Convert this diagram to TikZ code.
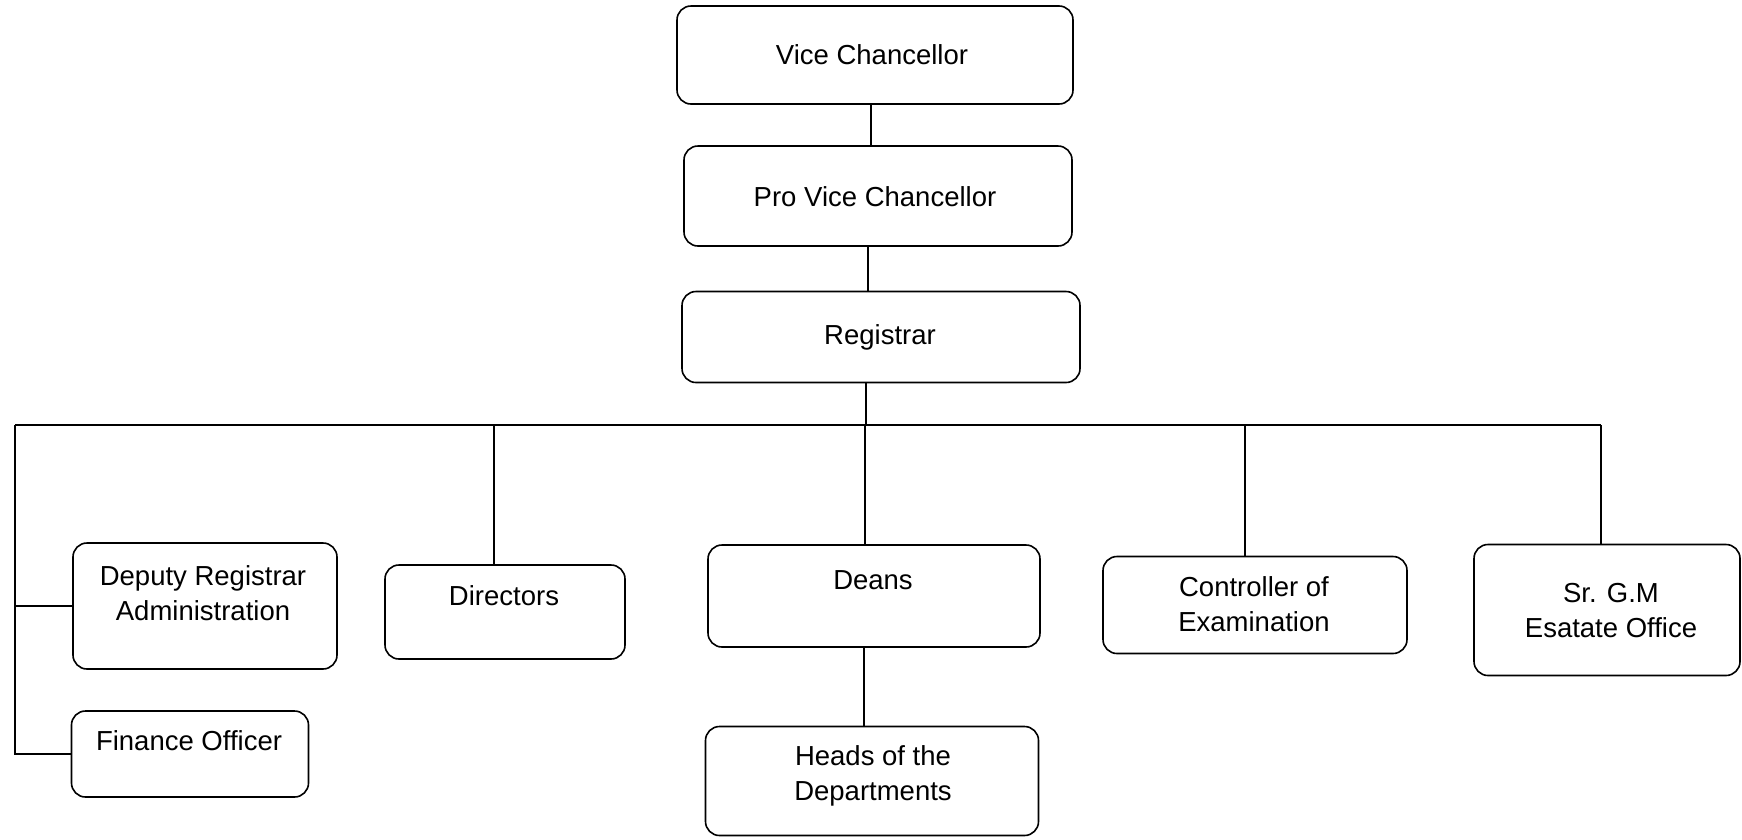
\documentclass[tikz,border=0pt]{standalone}
\usepackage{fontspec}
\setmainfont{Liberation Sans}
\begin{document}
\begin{tikzpicture}[x=1pt,y=-1pt,
  box/.style={draw, line width=1.6pt, rounded corners=14pt, inner sep=0pt},
  txt/.style={align=center, inner sep=0pt, font=\fontsize{27.5}{35}\selectfont},
  conn/.style={line width=1.6pt}]
\useasboundingbox (0,0) rectangle (1742,839);
% boxes
\node[box, minimum width=396pt, minimum height=98pt]  (vc)    at (875,55)   {};
\node[box, minimum width=388pt, minimum height=100pt] (pvc)   at (878,196)  {};
\node[box, minimum width=398pt, minimum height=91pt]  (reg)   at (881,337)  {};
\node[box, minimum width=264pt, minimum height=126pt] (dra)   at (205,606)  {};
\node[box, minimum width=237pt, minimum height=86pt]  (fo)    at (190,754)  {};
\node[box, minimum width=240pt, minimum height=94pt]  (dir)   at (505,612)  {};
\node[box, minimum width=332pt, minimum height=102pt] (deans) at (874,596)  {};
\node[box, minimum width=333pt, minimum height=109pt] (heads) at (872,781)  {};
\node[box, minimum width=304pt, minimum height=97pt]  (ctrl)  at (1255,605) {};
\node[box, minimum width=266pt, minimum height=131pt] (srgm)  at (1607,610) {};
% texts
\node[txt] (vct)    at (872,55)   {Vice Chancellor};
\node[txt] (pvct)   at (875,197)  {Pro Vice Chancellor};
\node[txt] (regt)   at (880,337)  {Registrar};
\node[txt] (drat)   at (203,593)  {Deputy Registrar\\Administration};
\node[txt] (fot)    at (189,741)  {Finance Officer};
\node[txt] (dirt)   at (504,596)  {Directors};
\node[txt] (deanst) at (873,580)  {Deans};
\node[txt] (headst) at (873,776)  {Heads of the\\Departments};
\node[txt] (ctrlt)  at (1254,604) {Controller of\\Examination};
\node[txt] (srgmt)  at (1611,611) {Sr. G.M\\Esatate Office};
% bus
\coordinate (busL) at (15,425);
\coordinate (busR) at (1601,425);
\draw[conn] (busL) -- (busR);
\draw[conn] ([xshift=-4pt]vc.south) -- ([xshift=-7pt]pvc.north);
\draw[conn] ([xshift=-10pt]pvc.south) -- ([xshift=-13pt]reg.north);
\draw[conn] ([xshift=-15pt]reg.south) -- ([xshift=-15pt]reg.south |- busL);
\draw[conn] (busL) |- (fo.west);
\draw[conn] (dra.west) -- (dra.west -| busL);
\draw[conn] ([xshift=-11pt]dir.north) -- ([xshift=-11pt]dir.north |- busL);
\draw[conn] ([xshift=-9pt]deans.north) -- ([xshift=-9pt]deans.north |- busL);
\draw[conn] ([xshift=-10pt]ctrl.north) -- ([xshift=-10pt]ctrl.north |- busL);
\draw[conn] ([xshift=-6pt]srgm.north) -- (busR);
\draw[conn] ([xshift=-10pt]deans.south) -- ([xshift=-8pt]heads.north);
\end{tikzpicture}
\end{document}
